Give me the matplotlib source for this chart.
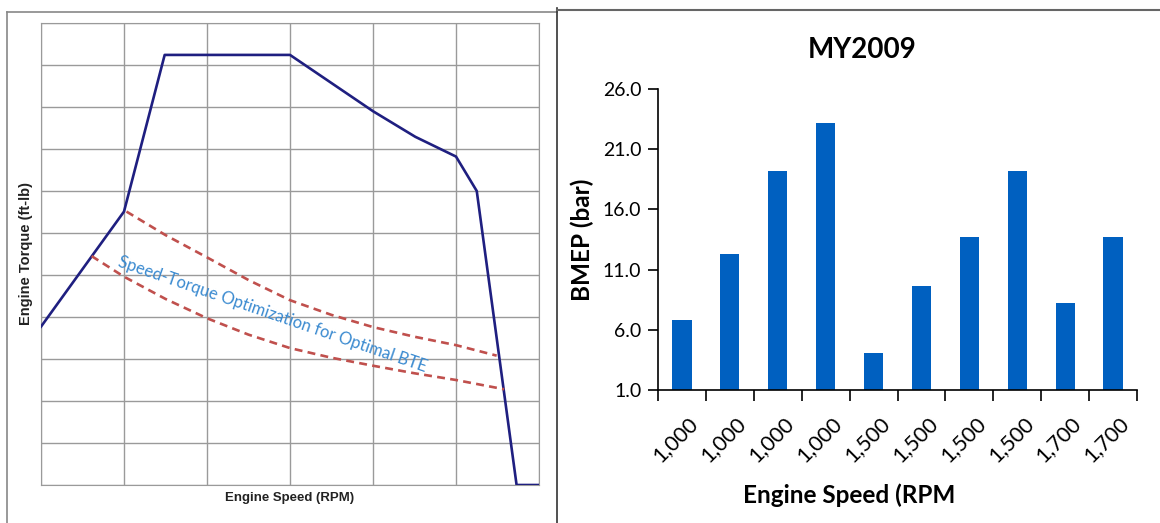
import matplotlib.pyplot as plt
from matplotlib.lines import Line2D

# left panel: torque curve (grid units, no real scale shown)
torque_x = [0, 1.0, 1.49, 3.0, 4.0, 4.51, 5.0, 5.25, 5.73, 6.0]
torque_y = [3.77, 6.51, 10.24, 10.24, 8.9, 8.29, 7.82, 7.0, 0.0, 0.0]

upper_x = [1.03, 1.5, 2.0, 2.5, 3.0, 3.5, 4.0, 4.5, 5.0, 5.49]
upper_y = [6.51, 5.95, 5.42, 4.88, 4.40, 4.05, 3.76, 3.53, 3.33, 3.08]
lower_x = [0.61, 1.0, 1.5, 2.0, 2.5, 3.0, 3.5, 4.0, 4.5, 5.0, 5.58]
lower_y = [5.45, 4.96, 4.43, 3.97, 3.58, 3.26, 3.03, 2.84, 2.66, 2.50, 2.28]

# right panel: BMEP bars
speed_labels = ['1,000', '1,000', '1,000', '1,000', '1,500', '1,500',
                '1,500', '1,500', '1,700', '1,700']
bmep = [6.8, 12.3, 19.2, 23.2, 4.1, 9.6, 13.7, 19.2, 8.2, 13.7]

fig = plt.figure(figsize=(11.6, 5.23), dpi=100)

# panel frames
fig.add_artist(Line2D([7/1160, 7/1160], [0, 1-12/523], color='#888888', lw=1.2))
fig.add_artist(Line2D([7/1160, 557/1160], [1-12/523, 1-12/523], color='#888888', lw=1.2))
fig.add_artist(Line2D([557/1160, 557/1160], [0, 1-8/523], color='#333333', lw=1.2))
fig.add_artist(Line2D([557/1160, 1], [1-10/523, 1-10/523], color='#666666', lw=1.5))

ax1 = fig.add_axes([41/1160, 38/523, 498/1160, 462/523])
ax1.plot(torque_x, torque_y, color='#1f1f80', lw=1.9, zorder=3)
ax1.plot(upper_x, upper_y, color='#c0504d', lw=1.9, ls=(0, (3, 2)), zorder=3)
ax1.plot(lower_x, lower_y, color='#c0504d', lw=1.9, ls=(0, (3, 2)), zorder=3)
ax1.text(0.92, 5.2, 'Speed-Torque Optimization for Optimal BTE', color='#3a8ad0',
         fontsize=12, family='Lato', rotation=-19, rotation_mode='anchor',
         ha='left', va='baseline', zorder=4)
ax1.set_xlim(0, 6)
ax1.set_ylim(0, 11)
ax1.set_xticks(range(7))
ax1.set_yticks(range(12))
ax1.grid(True, color='#9a9a9a', lw=1.0)
ax1.tick_params(length=0, labelbottom=False, labelleft=False)
for s in ax1.spines.values():
    s.set_color('#9a9a9a')
ax1.set_xlabel('Engine Speed (RPM)', fontsize=9.5, fontweight='bold',
               family='Liberation Sans', color='#222222', labelpad=5)
ax1.set_ylabel('Engine Torque (ft-lb)', fontsize=10.5, fontweight='bold',
               family='Liberation Sans', color='#222222', labelpad=6)

ax2 = fig.add_axes([658/1160, 133/523, 479/1160, 301/523])
pos = list(range(len(bmep)))
ax2.bar(pos, [v - 1 for v in bmep], bottom=1, width=0.4, color='#0060c0')
ax2.set_xlim(-0.5, len(bmep) - 0.5)
ax2.set_ylim(1, 26)
ax2.set_yticks([1, 6, 11, 16, 21, 26])
ax2.set_yticklabels(['1.0', '6.0', '11.0', '16.0', '21.0', '26.0'],
                    fontsize=14, family='Lato')
ax2.set_xticks([p - 0.5 for p in range(len(bmep) + 1)])
ax2.set_xticklabels([])
ax2.tick_params(axis='x', length=8, width=1.2, direction='out')
ax2.tick_params(axis='y', length=7, width=1.2, direction='out', pad=5)
for p, lab in zip(pos, speed_labels):
    ax2.text(p + 0.12, -0.9, lab, rotation=45, rotation_mode='anchor',
             ha='right', va='top', fontsize=15.5, family='Lato',
             transform=ax2.transData, clip_on=False)
ax2.spines['top'].set_visible(False)
ax2.spines['right'].set_visible(False)
ax2.spines['left'].set_linewidth(1.2)
ax2.spines['bottom'].set_linewidth(1.2)
ax2.set_title('MY2009', fontsize=20, fontweight='bold', family='Lato', pad=22,
              x=0.426)
ax2.set_ylabel('BMEP (bar)', fontsize=17.5, fontweight='bold', family='Lato', labelpad=6)
ax2.set_xlabel('Engine Speed (RPM', fontsize=17.5, fontweight='bold', family='Lato',
               labelpad=56, x=0.40)

fig.savefig('out.png', dpi=100)
